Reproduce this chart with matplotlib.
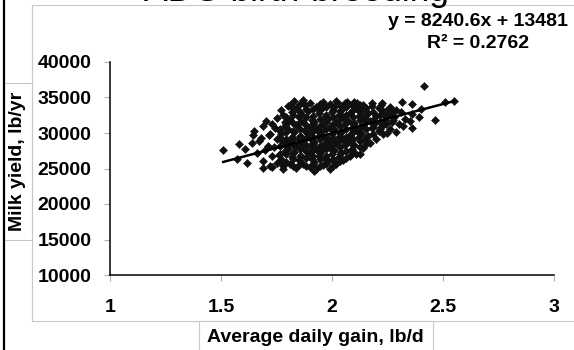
import matplotlib
matplotlib.use("Agg")
import matplotlib.pyplot as plt
from matplotlib.patches import Rectangle
from matplotlib.lines import Line2D

plt.rcParams['font.family'] = ['Liberation Sans', 'DejaVu Sans']

# scatter: ADG (lb/d) vs milk yield (lb/yr)
adg = [1.51, 1.582, 1.608, 1.645, 1.638, 1.703, 1.743, 1.716, 1.800, 1.827, 1.788,
       1.572, 1.616, 1.691, 1.728, 1.781, 1.919, 2.414, 2.509, 2.465, 2.359, 2.249,
       2.126, 2.362, 2.315, 2.224, 2.179, 2.066, 2.111, 2.014, 2.55,
       1.66, 1.67, 1.65,
       1.69, 1.70, 1.68, 1.69,
       1.72, 1.73, 1.71, 1.72, 1.73,
       1.75, 1.76, 1.74, 1.75, 1.76, 1.75,
       1.78, 1.77, 1.79, 1.78, 1.77, 1.79, 1.78, 1.77,
       1.81, 1.82, 1.80, 1.81, 1.82, 1.80, 1.81, 1.82, 1.81,
       1.84, 1.85, 1.83, 1.84, 1.85, 1.83, 1.84, 1.85, 1.84,
       1.87, 1.86, 1.88, 1.87, 1.86, 1.88, 1.87, 1.86, 1.88, 1.87,
       1.90, 1.91, 1.89, 1.90, 1.91, 1.89, 1.90, 1.91, 1.89, 1.90,
       1.93, 1.92, 1.94, 1.93, 1.92, 1.94, 1.93, 1.92, 1.94, 1.93,
       1.96, 1.97, 1.95, 1.96, 1.97, 1.95, 1.96, 1.97, 1.95, 1.96,
       1.99, 1.98, 2.00, 1.99, 1.98, 2.00, 1.99, 1.98, 2.00, 1.99,
       2.02, 2.03, 2.01, 2.02, 2.03, 2.01, 2.02, 2.03, 2.01, 2.02,
       2.05, 2.04, 2.06, 2.05, 2.04, 2.06, 2.05, 2.04, 2.06,
       2.08, 2.09, 2.07, 2.08, 2.09, 2.07, 2.08, 2.09,
       2.11, 2.10, 2.12, 2.11, 2.10, 2.12, 2.11, 2.10,
       2.14, 2.15, 2.13, 2.14, 2.15, 2.13, 2.14,
       2.17, 2.16, 2.18, 2.17, 2.16, 2.18,
       2.20, 2.21, 2.19, 2.20, 2.21,
       2.23, 2.22, 2.24, 2.23, 2.22,
       2.26, 2.27, 2.25, 2.26,
       2.29, 2.30, 2.28, 2.29,
       2.32, 2.33, 2.31,
       2.35, 2.36,
       2.39, 2.40]
milk = [27560, 28450, 27750, 29720, 28550, 31730, 30750, 29720, 33850, 34470, 31590,
        26340, 25730, 25030, 25170, 24890, 24690, 36580, 34410, 31790, 30660, 29960,
        27040, 34090, 34370, 34180, 34270, 34410, 34180, 25730, 34500,
        27200, 28900, 30300,
        26100, 27600, 29300, 31000,
        25400, 26800, 28200, 29900, 31300,
        25800, 26900, 28000, 29200, 30400, 32100,
        25300, 26400, 27500, 28700, 29800, 31000, 32600, 33200,
        25600, 26600, 27700, 28600, 29500, 30600, 31800, 32900, 34000,
        25100, 26200, 27300, 28200, 29100, 30100, 31100, 32300, 33500,
        25700, 26700, 27600, 28500, 29400, 30400, 31500, 32700, 33900, 34600,
        25200, 26300, 27200, 28100, 29000, 29900, 30800, 31900, 33100, 34200,
        24900, 25900, 26800, 27800, 28700, 29600, 30600, 31600, 32800, 33700,
        25500, 26500, 27400, 28300, 29300, 30200, 31200, 32300, 33400, 34400,
        25000, 26100, 27100, 28000, 28900, 29800, 30900, 32000, 33000, 34100,
        25700, 26600, 27600, 28600, 29500, 30500, 31500, 32600, 33600, 34500,
        26200, 27300, 28300, 29200, 30200, 31200, 32200, 33300, 34200,
        26700, 27800, 28800, 29700, 30700, 31700, 32800, 33900,
        27100, 28300, 29400, 30400, 31400, 32400, 33500, 34400,
        27900, 29000, 30000, 31000, 32100, 33100, 34000,
        28600, 29600, 30700, 31700, 32800, 33800,
        29200, 30300, 31300, 32400, 33500,
        29800, 30900, 31900, 33000, 34000,
        30500, 31500, 32600, 33600,
        30100, 31200, 32300, 33300,
        31000, 32000, 33000,
        31700, 32700,
        32200, 33400]

# the dense middle of the cloud (points sitting between the ones above)
adg_core = [1.765, 1.765, 1.765, 1.765, 1.765,
            1.795, 1.795, 1.795, 1.795, 1.795, 1.795, 1.795,
            1.825, 1.825, 1.825, 1.825, 1.825, 1.825, 1.825, 1.825, 1.825,
            1.855, 1.855, 1.855, 1.855, 1.855, 1.855, 1.855, 1.855, 1.855,
            1.885, 1.885, 1.885, 1.885, 1.885, 1.885, 1.885, 1.885, 1.885,
            1.915, 1.915, 1.915, 1.915, 1.915, 1.915, 1.915, 1.915, 1.915,
            1.945, 1.945, 1.945, 1.945, 1.945, 1.945, 1.945, 1.945, 1.945, 1.945,
            1.975, 1.975, 1.975, 1.975, 1.975, 1.975, 1.975, 1.975, 1.975,
            2.005, 2.005, 2.005, 2.005, 2.005, 2.005, 2.005, 2.005, 2.005,
            2.035, 2.035, 2.035, 2.035, 2.035, 2.035, 2.035, 2.035, 2.035,
            2.065, 2.065, 2.065, 2.065, 2.065, 2.065, 2.065, 2.065,
            2.095, 2.095, 2.095, 2.095, 2.095, 2.095, 2.095,
            2.125, 2.125, 2.125, 2.125, 2.125, 2.125, 2.125,
            2.155, 2.155, 2.155, 2.155, 2.155, 2.155,
            2.185, 2.185, 2.185, 2.185,
            2.215, 2.215, 2.215, 2.215,
            2.245, 2.245, 2.245,
            2.275, 2.275]
milk_core = [26000, 27000, 28100, 29300, 30500,
             25900, 27100, 28100, 29100, 30100, 31300, 32300,
             25300, 26400, 27200, 28300, 29100, 30300, 31400, 32500, 33500,
             25700, 26700, 27800, 28700, 29600, 30600, 31600, 32900, 34100,
             25400, 26500, 27400, 28300, 29300, 30200, 31100, 32300, 33400,
             25600, 26700, 27600, 28500, 29400, 30300, 31300, 32400, 33400,
             25300, 26300, 27200, 28200, 29100, 30000, 31000, 32000, 33200, 34100,
             25700, 26700, 27700, 28600, 29500, 30500, 31600, 32600, 33700,
             25400, 26400, 27400, 28400, 29300, 30300, 31300, 32300, 33300,
             26000, 27100, 28000, 29000, 30000, 31000, 32000, 33100, 34000,
             26500, 27500, 28600, 29500, 30500, 31500, 32500, 33600,
             27300, 28300, 29200, 30200, 31200, 32200, 33300,
             28000, 28900, 29900, 30900, 31900, 32900, 33900,
             28500, 29500, 30500, 31500, 32500, 33500,
             29900, 30900, 31900, 32900,
             30500, 31500, 32500, 33500,
             31200, 32200, 33100,
             31800, 32900]

# trend line as printed on the chart
slope = 8240.6
intercept = 13481
r2 = 0.2762

x_ticks = [1, 1.5, 2, 2.5, 3]
x_ticklabels = ['1', '1.5', '2', '2.5', '3']
y_ticks = [10000, 15000, 20000, 25000, 30000, 35000, 40000]

W, H = 574, 350
fig = plt.figure(figsize=(W / 100, H / 100), dpi=100)
fig.patch.set_facecolor('white')

ax = fig.add_axes([110 / W, 1 - 275 / H, 444 / W, 213 / H])
ax.plot(adg + adg_core, milk + milk_core, linestyle='none', marker='D', markersize=4.1,
        color='#101010', markeredgewidth=0.4, zorder=2)
xs = [min(adg), max(adg)]
ax.plot(xs, [slope * v + intercept for v in xs], color='black', lw=1.8, zorder=3)

ax.set_xlim(1, 3)
ax.set_ylim(10000, 40000)
ax.set_xticks(x_ticks)
ax.set_xticklabels(x_ticklabels)
ax.set_yticks(y_ticks)
ax.spines['top'].set_visible(False)
ax.spines['right'].set_visible(False)
for s in ['left', 'bottom']:
    ax.spines[s].set_linewidth(1.1)
    ax.spines[s].set_color('black')
ax.tick_params(axis='both', direction='out', length=4.3, width=0.8, color='#b0b0b0',
               labelsize=14)
ax.tick_params(axis='x', pad=13)
ax.tick_params(axis='y', pad=9)
for lab in ax.get_xticklabels() + ax.get_yticklabels():
    lab.set_fontweight('bold')

# equation text
fig.text(478 / W, 1 - 21 / H, f'y = {slope}x + {intercept}', ha='center', va='center',
         fontsize=14, fontweight='bold')
fig.text(478 / W, 1 - 43 / H, f'R² = {r2}', ha='center', va='center',
         fontsize=14, fontweight='bold')

# plot area frame and title boxes (Excel style)
fig.add_artist(Rectangle((32 / W, 1 - 321 / H), 600 / W, 316 / H, fill=False,
                         edgecolor='#c8c8c8', lw=0.8, transform=fig.transFigure, zorder=0))
fig.add_artist(Rectangle((4 / W, 1 - 240 / H), 28 / W, 157 / H, facecolor='white',
                         edgecolor='#c8c8c8', lw=0.8, transform=fig.transFigure, zorder=1))
fig.add_artist(Rectangle((199 / W, 1 - 370 / H), 234 / W, 49 / H, facecolor='white',
                         edgecolor='#c8c8c8', lw=0.8, transform=fig.transFigure, zorder=1))
fig.text(18 / W, 1 - 161 / H, 'Milk yield, lb/yr', rotation=90, ha='center', va='center',
         fontsize=14, fontweight='bold', zorder=2)
fig.text(315 / W, 1 - 337 / H, 'Average daily gain, lb/d', ha='center', va='center',
         fontsize=14, fontweight='bold', zorder=2)

# title, mostly cut off at the top (as in the original)
fig.text(296 / W, 1 - 0.5 / H, 'ADG birth-breeding', ha='center', va='baseline', fontsize=25.5)

# heavy left border
fig.add_artist(Line2D([4 / W, 4 / W], [0, 1], color='black', lw=1.6, transform=fig.transFigure))

fig.savefig('out.png', dpi=100)
